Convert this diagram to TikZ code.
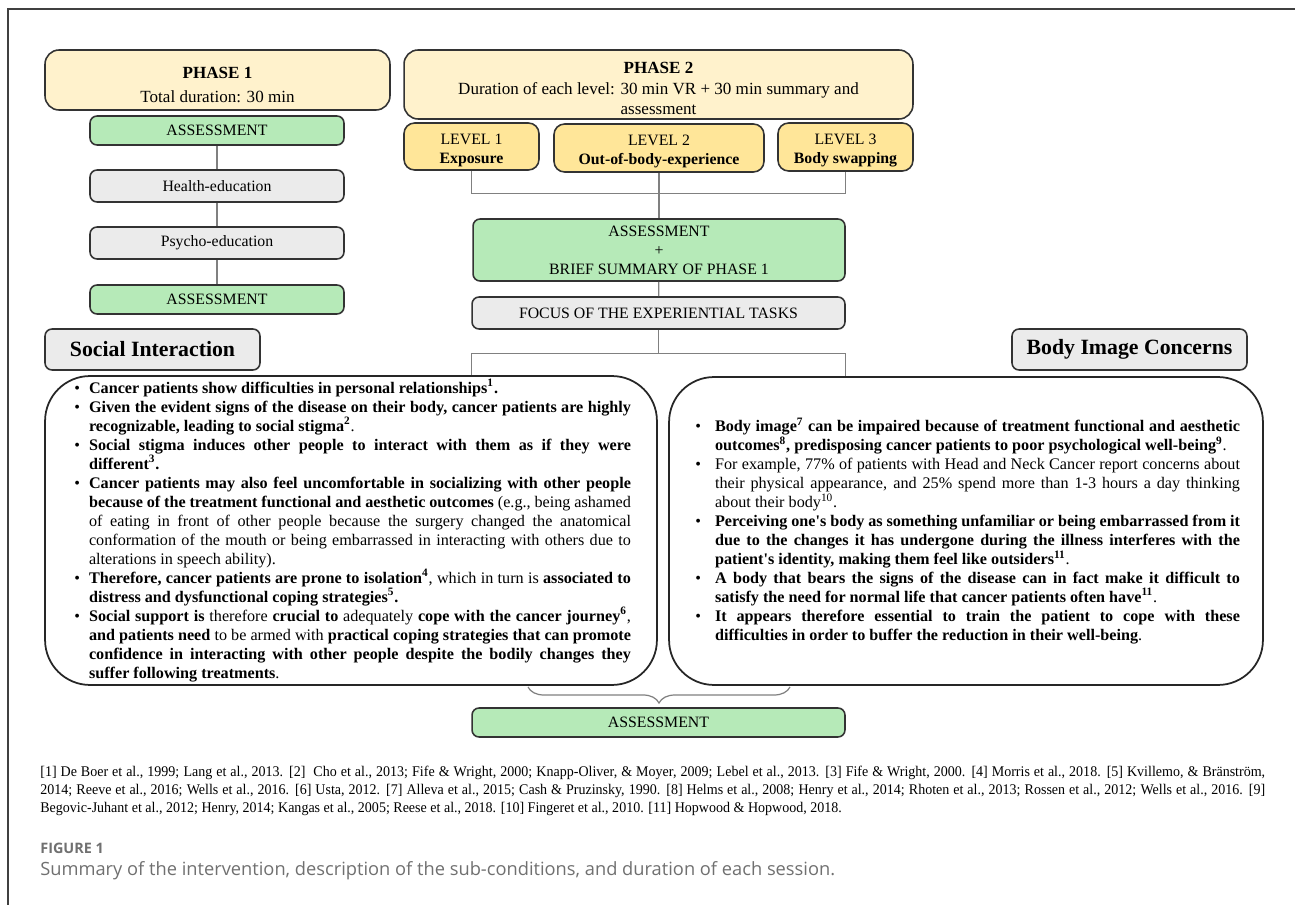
\documentclass[tikz,border=0pt]{standalone}
\usepackage{fontspec}
\setmainfont{Liberation Serif}
\newfontfamily\captionfont{Open Sans}
\newfontfamily\reffont{Liberation Serif}[FakeStretch=0.95]
\usepackage{enumitem}
\usetikzlibrary{decorations.pathreplacing}
\hyphenpenalty=10000
\tolerance=9999
\emergencystretch=1em
\definecolor{phaseyellow}{RGB}{255,242,204}
\definecolor{levelyellow}{RGB}{255,230,153}
\definecolor{assessgreen}{RGB}{182,234,184}
\definecolor{taskgray}{RGB}{235,235,235}
\definecolor{linegray}{RGB}{128,128,128}
\definecolor{captiongray}{RGB}{112,112,112}
\tikzstyle{box} = [draw=black!80, line width=0.9pt, rounded corners=4pt, align=center, inner sep=0pt, font=\fontsize{9}{10.8}\selectfont]
\tikzstyle{phase} = [box, fill=phaseyellow, rounded corners=8pt, font=\fontsize{9.7}{11.6}\selectfont]
\tikzstyle{level} = [box, fill=levelyellow, rounded corners=6pt]
\tikzstyle{assessment} = [box, fill=assessgreen]
\tikzstyle{task} = [box, fill=taskgray]
\tikzstyle{topic} = [box, fill=taskgray, font=\fontsize{12.4}{14}\selectfont\bfseries]
\tikzstyle{textpanel} = [draw=black!85, line width=1pt, rounded corners=0.9cm, inner sep=0pt, font=\fontsize{9.2}{10.8}\selectfont]
\tikzstyle{link} = [draw=linegray, line width=0.7pt]

\begin{document}
\begin{tikzpicture}[x=0.02cm, y=-0.02cm]
	\useasboundingbox (0,0) rectangle (1295,905);
	\draw[black!75, line width=1.1pt] (8,905) -- (8,9) -- (1295,9);

	\node[phase, minimum width=6.9cm, minimum height=1.2cm] (phase1) at (217.5,80) {\rule{0pt}{12pt}\textbf{PHASE 1}\\[2pt]Total duration: 30 min};
	\node[assessment, minimum width=5.08cm, minimum height=0.58cm] (ass1) at (217,130.5) {ASSESSMENT};
	\node[task, minimum width=5.08cm, minimum height=0.64cm] (health) at (217,186) {Health-education};
	\node[task, minimum width=5.08cm, minimum height=0.64cm] (psycho) at (217,243) {Psycho-education};
	\node[assessment, minimum width=5.08cm, minimum height=0.58cm] (ass2) at (217,299.5) {ASSESSMENT};
	\draw[link] (ass1) -- (health) -- (psycho) -- (ass2);

	\node[phase, minimum width=10.18cm, minimum height=1.38cm] (phase2) at (658.5,84.5) {\rule{0pt}{11pt}\textbf{PHASE 2}\\Duration of each level: 30 min VR + 30 min summary and\\assessment};
	\node[level, minimum width=2.7cm, minimum height=0.94cm] (lev1) at (471.5,146.5) {\rule{0pt}{10pt}LEVEL 1\\\textbf{Exposure}};
	\node[level, minimum width=4.2cm, minimum height=0.96cm] (lev2) at (659,148) {\rule{0pt}{10pt}LEVEL 2\\\textbf{Out-of-body-experience}};
	\node[level, minimum width=2.7cm, minimum height=0.96cm] (lev3) at (845.5,147) {\rule{0pt}{10pt}LEVEL 3\\\textbf{Body swapping}};
	\node[assessment, minimum width=7.44cm, minimum height=1.24cm] (asssum) at (659,250) {ASSESSMENT\\+\\BRIEF SUMMARY OF PHASE 1};
	\node[task, minimum width=7.46cm, minimum height=0.64cm] (focus) at (658.5,313) {FOCUS OF THE EXPERIENTIAL TASKS};
	\draw[link] (lev1.south) -- ++(0,23) -| (lev3.south);
	\draw[link] (lev2) -- (asssum);
	\draw[link] (asssum) -- (focus);

	\node[topic, minimum width=4.3cm, minimum height=0.82cm] (social) at (152.5,349.5) {Social Interaction};
	\node[topic, minimum width=4.7cm, minimum height=0.82cm] (bodyimage) at (1129.5,349.5) {Body Image Concerns};

	\node[textpanel, minimum width=12.24cm, minimum height=6.18cm] (socialtext) at (351,530.5) {
		\begin{minipage}{11.2cm}
			\begin{itemize}[label=\textbullet, leftmargin=0.36cm, labelsep=0.18cm, itemsep=0pt, topsep=0pt, parsep=0pt, partopsep=0pt]
				\item \textbf{Cancer patients show difficulties in personal relationships\textsuperscript{1}.}
				\item \textbf{Given the evident signs of the disease on their body, cancer patients are highly recognizable, leading to social stigma\textsuperscript{2}}.
				\item \textbf{Social stigma induces other people to interact with them as if they were different\textsuperscript{3}.}
				\item \textbf{Cancer patients may also feel uncomfortable in socializing with other people because of the treatment functional and aesthetic outcomes} (e.g., being ashamed of eating in front of other people because the surgery changed the anatomical conformation of the mouth or being embarrassed in interacting with others due to alterations in speech ability).
				\item \textbf{Therefore, cancer patients are prone to isolation\textsuperscript{4}}, which in turn is \textbf{associated to distress and dysfunctional coping strategies\textsuperscript{5}.}
				\item \textbf{Social support is} therefore \textbf{crucial to} adequately \textbf{cope with the cancer journey\textsuperscript{6}}, \textbf{and patients need} to be armed with \textbf{practical coping strategies that can promote confidence in interacting with other people despite the bodily changes they suffer following treatments}.
			\end{itemize}
		\end{minipage}};
	\node[textpanel, minimum width=11.88cm, minimum height=6.16cm] (bodytext) at (966,531) {
		\begin{minipage}{10.96cm}
			\begin{itemize}[label=\textbullet, leftmargin=0.46cm, labelsep=0.28cm, itemsep=0pt, topsep=0pt, parsep=0pt, partopsep=0pt]
				\item \textbf{Body image\textsuperscript{7} can be impaired because of treatment functional and aesthetic outcomes\textsuperscript{8}, predisposing cancer patients to poor psychological well-being\textsuperscript{9}}.
				\item For example, 77\% of patients with Head and Neck Cancer report concerns about their physical appearance, and 25\% spend more than 1-3 hours a day thinking about their body\textsuperscript{10}.
				\item \textbf{Perceiving one\textquotesingle s body as something unfamiliar or being embarrassed from\nolinebreak\ it\linebreak due to the changes it has undergone during the illness interferes with the\linebreak patient\textquotesingle s identity, making them feel like outsiders\textsuperscript{11}}.
				\item \textbf{A body that bears the signs of the disease can in fact make it difficult to\linebreak satisfy the need for normal life that cancer patients often have\textsuperscript{11}}.
				\item \textbf{It appears therefore essential to train the patient to cope with these\linebreak difficulties in order to buffer the reduction in their well-being}.
			\end{itemize}
		\end{minipage}};

	\draw[link] (focus.south) -- ++(0,24) coordinate (fork);
	\draw[link] (focus.south west |- fork) -- (focus.south east |- fork);
	\draw[link] (focus.south west |- fork) -- (focus.south west |- socialtext.north);
	\draw[link] (focus.south east |- fork) -- (focus.south east |- bodytext.north);

	\node[assessment, minimum width=7.46cm, minimum height=0.58cm] (ass3) at (658.5,722.5) {ASSESSMENT};
	\coordinate (braceL) at (528,687);
	\coordinate (braceR) at (790,687);
	\draw[link, decorate, decoration={brace, amplitude=0.32cm}] (braceR) -- (braceL);

	\node[anchor=north west, inner sep=0pt, text width=24.5cm, align=justify, font=\reffont\fontsize{8.4}{10.2}\selectfont] (refs) at (40,766) {[1] De Boer et al., 1999; Lang et al., 2013. [2]~~Cho et al., 2013; Fife \& Wright, 2000; Knapp-Oliver, \& Moyer, 2009; Lebel et al., 2013. [3] Fife \& Wright, 2000. [4] Morris et al., 2018. [5] Kvillemo, \& Bränström,\linebreak 2014; Reeve et al., 2016; Wells et al., 2016. [6] Usta, 2012. [7] Alleva et al., 2015; Cash \& Pruzinsky, 1990. [8] Helms et al., 2008; Henry et al., 2014; Rhoten et al., 2013; Rossen et al., 2012; Wells et al., 2016. [9]\linebreak Begovic-Juhant et al., 2012; Henry, 2014; Kangas et al., 2005; Reese et al., 2018. [10] Fingeret et al., 2010. [11] Hopwood \& Hopwood, 2018.};
	\node[anchor=west, inner sep=0pt, text=captiongray, font=\captionfont\fontsize{8.2}{9}\selectfont\bfseries] (figlabel) at (40,848) {FIGURE 1};
	\node[anchor=west, inner sep=0pt, text=captiongray, font=\captionfont\fontsize{10.4}{12}\selectfont] (figcaption) at (40,871) {Summary of the intervention, description of the sub-conditions, and duration of each session.};
\end{tikzpicture}
\end{document}
